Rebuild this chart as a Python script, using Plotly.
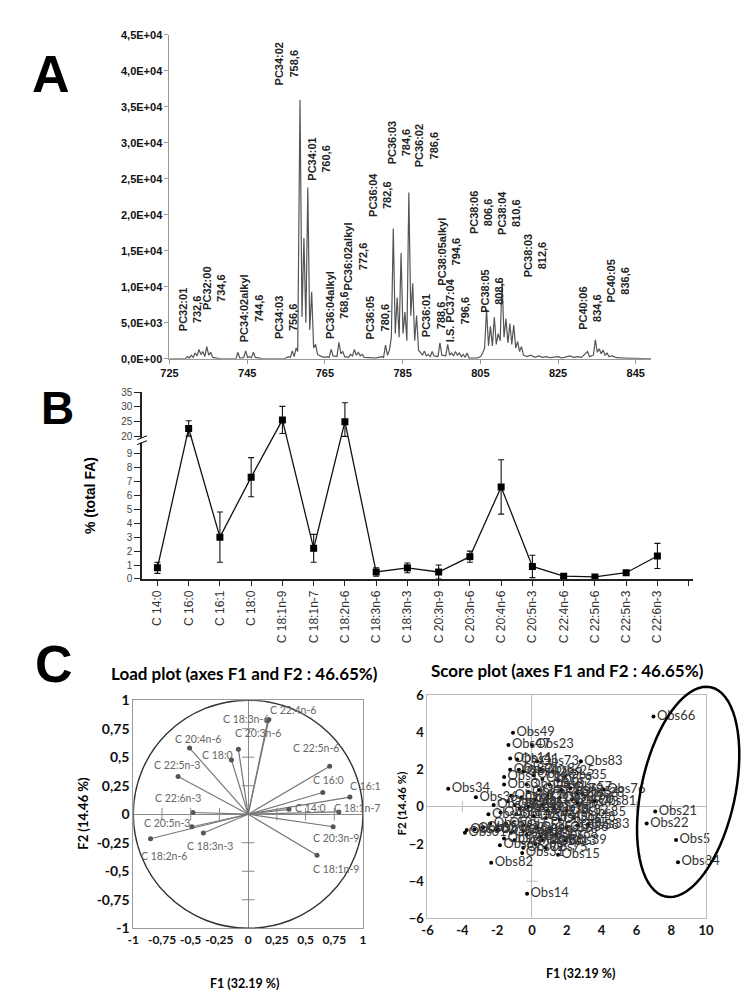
import math
import plotly.graph_objects as go

W, H = 751, 1000
def P(px): return px / W
def Q(py): return 1 - py / H

# ---------------- Panel A : ESI-MS spectrum ----------------
spec_mz = [725, 729.1, 729.6, 730.1, 730.6, 731.1, 731.6, 732.1, 732.6, 733.1, 733.6, 734.1, 734.6, 735.1, 735.6, 736.1, 737.1, 738.1,
           742.1, 742.6, 743.1, 744.1, 744.6, 745.1, 745.6, 746.1, 746.6, 747.1, 748.1, 749.0,
           754.6, 755.6, 756.1, 756.6, 757.1, 757.6, 758.0, 758.6, 759.1, 759.6, 760.1, 760.6, 761.1, 761.6, 762.1, 762.6, 763.1, 764.1, 765.1,
           765.6, 766.1, 766.6, 767.1, 768.1, 768.6, 769.1, 769.6, 770.1, 771.1, 771.6, 772.1, 772.6, 773.1, 773.6, 774.1, 774.6, 775.1, 776.0, 778.0,
           779.6, 780.1, 780.6, 781.1, 781.6, 782.1, 782.6, 783.1, 783.6, 784.1, 784.6, 785.1, 785.6, 786.1, 786.6, 787.1, 787.6, 788.1, 788.6,
           789.1, 789.6, 790.1, 790.6, 791.1, 791.6, 792.1, 792.6, 793.1, 794.1, 794.6, 795.1, 796.1, 796.6, 797.1, 797.6, 798.1, 798.6, 799.1,
           799.6, 800.1, 800.6, 801.1, 801.6, 802.1, 804.1, 805.1, 805.6, 806.1, 806.6, 807.1, 807.6, 808.1, 808.6, 809.1, 809.6, 810.1, 810.6,
           811.1, 811.6, 812.1, 812.6, 813.1, 813.6, 814.1, 814.6, 815.1, 815.6, 816.1, 817, 818, 819, 820, 821, 822, 823, 825, 826, 828, 829,
           830, 831, 832.6, 833.1, 834.1, 834.6, 835.1, 835.6, 836.1, 836.6, 837.1, 837.6, 838.1, 839, 840, 842, 845, 849]
spec_int = [0, 0, 300, 100, 500, 200, 800, 400, 1300, 600, 1000, 300, 1700, 500, 900, 200, 100, 0,
            0, 900, 100, 150, 1100, 200, 300, 150, 900, 200, 100, 0,
            0, 300, 200, 1100, 300, 1500, 1000, 36000, 5800, 16800, 5000, 23800, 4000, 9300, 1500, 2000, 600, 300, 200,
            300, 200, 1300, 400, 300, 2300, 700, 1000, 300, 200, 600, 400, 1300, 500, 900, 400, 600, 200, 150, 100,
            300, 200, 1900, 500, 1200, 3000, 18100, 3500, 8500, 3000, 14700, 3500, 6500, 2500, 23100, 6000, 10500, 2500, 6000,
            1200, 900, 500, 1100, 400, 600, 300, 1000, 400, 300, 2200, 500, 400, 2000, 500, 800, 400, 1000, 500,
            800, 300, 600, 200, 800, 100, 100, 300, 800, 1500, 6900, 1800, 4500, 1800, 5800, 2000, 3500, 2500, 10800,
            3000, 5600, 2200, 4900, 2000, 4700, 1500, 2400, 1000, 1700, 500, 300, 500, 200, 400, 200, 300, 150, 300, 100, 400, 200,
            300, 200, 1000, 300, 500, 2650, 900, 1400, 700, 1200, 500, 800, 300, 400, 150, 100, 50, 0]

pc_names = ["PC32:01", "PC32:00", "PC34:02alkyl", "PC34:03", "PC34:02", "PC34:01", "PC36:04alkyl", "PC36:02alkyl",
            "PC36:05", "PC36:04", "PC36:03", "PC36:02", "PC36:01", "PC38:05alkyl", "I.S. PC37:04", "PC38:06",
            "PC38:05", "PC38:04", "PC38:03", "PC40:06", "PC40:05"]
pc_mz_text = ["732,6", "734,6", "744,6", "756,6", "758,6", "760,6", "768,6", "772,6",
              "780,6", "782,6", "784,6", "786,6", "788,6", "794,6", "796,6", "806,6",
              "808,6", "810,6", "812,6", "834,6", "836,6"]
# label anchor positions (bottom-centre of rotated text) in data units
pc_lab_x = [730.3, 736.3, 746.2, 755.0, 755.1, 763.4, 768.0, 772.7, 778.5, 779.3, 784.1, 791.1, 792.9, 796.7, 799.2,
            805.2, 808.1, 812.5, 819.1, 833.2, 840.5]
pc_lab_y = [3500, 6500, 2000, 2400, 37700, 24500, 2400, 9200, 2400, 19500, 26700, 26300, 2700, 9900, 2000,
            17000, 6100, 17000, 11000, 3800, 7500]

a_xticks = [725, 745, 765, 785, 805, 825, 845]
a_yticks = [0, 5000, 10000, 15000, 20000, 25000, 30000, 35000, 40000, 45000]
a_yticktext = ["0,0E+00", "5,0E+03", "1,0E+04", "1,5E+04", "2,0E+04", "2,5E+04", "3,0E+04", "3,5E+04", "4,0E+04", "4,5E+04"]

# ---------------- Panel B : fatty acids ----------------
fa_names = ["C 14:0", "C 16:0", "C 16:1", "C 18:0", "C 18:1n-9", "C 18:1n-7", "C 18:2n-6", "C 18:3n-6", "C 18:3n-3",
            "C 20:3n-9", "C 20:3n-6", "C 20:4n-6", "C 20:5n-3", "C 22:4n-6", "C 22:5n-6", "C 22:5n-3", "C 22:6n-3"]
fa_mean = [0.8, 22.7, 3.0, 7.3, 25.6, 2.2, 25.0, 0.5, 0.8, 0.5, 1.6, 6.6, 0.9, 0.2, 0.15, 0.45, 1.65]
fa_err = [0.4, 2.6, 1.8, 1.4, 4.6, 1.0, 6.4, 0.3, 0.35, 0.5, 0.4, 1.95, 0.8, 0.1, 0.1, 0.1, 0.9]
b_ytick_vals = [0, 1, 2, 3, 4, 5, 6, 7, 8, 9, 20, 25, 30, 35]

# ---------------- Panel C : PCA ----------------
load_names = ["C 22:4n-6", "C 18:3n-6", "C 20:3n-6", "C 18:0", "C 20:4n-6", "C 22:5n-6", "C 16:0", "C 16:1",
              "C 18:1n-7", "C 14:0", "C 20:3n-9", "C 18:1n-9", "C 22:5n-3", "C 22:6n-3", "C 20:5n-3", "C 18:3n-3", "C 18:2n-6"]
load_f1 = [0.18, 0.17, -0.085, -0.145, -0.51, 0.71, 0.65, 0.886, 0.79, 0.355, 0.74, 0.60, -0.61, -0.48, -0.49, -0.39, -0.85]
load_f2 = [0.83, 0.82, 0.57, 0.475, 0.58, 0.42, 0.19, 0.15, 0.02, 0.043, -0.11, -0.36, 0.33, 0.015, -0.11, -0.165, -0.215]
# label offsets in pixels (style)
load_dx = [24, -22, 20, -14, 8, -14, 6, 16, 18, 22, 3, 19, -1, -15, -25, 7, 13]
load_dy = [10, 2, 16, 5, 9, 18, 13, 11, 4, 1, -11, -14, 12, 15, 4, -13, -17]

obs_names = ["Obs66", "Obs49", "Obs47", "Obs23", "Obs83", "Obs34", "Obs36", "Obs76", "Obs28", "Obs21", "Obs22", "Obs5",
             "Obs84", "Obs82", "Obs14", "Obs15", "Obs31", "Obs33", "Obs41", "Obs73", "Obs11", "Obs2", "Obs25", "Obs35",
             "Obs57", "Obs54", "Obs43", "Obs1", "Obs3", "Obs4", "Obs6", "Obs7", "Obs8", "Obs9", "Obs10", "Obs12",
             "Obs13", "Obs16", "Obs17", "Obs18", "Obs19", "Obs20", "Obs24", "Obs26", "Obs27", "Obs29", "Obs30", "Obs32",
             "Obs37", "Obs38", "Obs39", "Obs40", "Obs42", "Obs44", "Obs45", "Obs46", "Obs48", "Obs50", "Obs51", "Obs52",
             "Obs53", "Obs55", "Obs56", "Obs58", "Obs59", "Obs60", "Obs61", "Obs62", "Obs63", "Obs64", "Obs65", "Obs67",
             "Obs68", "Obs69", "Obs70", "Obs71", "Obs72", "Obs74", "Obs75", "Obs77", "Obs78", "Obs79", "Obs80", "Obs81",
             "Obs85", "Obs86", "Obs87", "Obs88", "Obs89", "Obs90"]
obs_f1 = [6.98, -1.09, -1.35, 0.0, 2.81, -4.81, -3.22, 4.12, 2.9, 7.08, 6.59, 8.28,
          8.39, -2.34, -0.28, 1.5, -0.56, 3.2, -0.85, 0.3, -1.25, -0.75, 1.2, 1.9,
          2.2, 2.6, 2.6, -1.6, -1.6, -0.5, 0.1, 0.6, 1.0, 1.5, -0.3, 0.4,
          1.3, -1.2, -0.6, 0.2, 0.9, 1.6, -1.0, -1.4, -0.2, 0.6, 1.3, 2.0,
          -2.2, -1.8, 1.9, -2.5, -0.9, 0.1, 0.8, 1.6, 2.4, -2.4, -1.5, -0.5,
          0.3, 1.1, 2.0, 2.6, -2.8, -3.75, -3.85, -3.3, -2.0, -1.2, -0.3, 0.5,
          1.4, -1.84, -1.6, -1.0, -0.5, 0.2, 0.8, -0.2, 0.9, 1.7, -0.7, 3.6,
          3.0, 0.5, -1.25, 0.6, -0.5, 2.3]
obs_f2 = [4.86, 3.98, 3.33, 3.33, 2.45, 0.97, 0.51, 0.93, 0.69, -0.25, -0.90, -1.78,
          -2.98, -3.01, -4.68, -2.57, -2.48, -0.95, 2.55, 2.45, 2.6, 2.0, 1.9, 1.65,
          1.0, 0.75, 0.2, 1.6, 1.2, 1.9, 1.7, 1.5, 1.2, 1.4, 1.2, 0.9,
          -1.9, 0.6, 0.5, 0.4, 0.6, 0.5, 0.1, 0.3, 0.0, 0.1, -0.1, -0.2,
          0.1, -0.3, -1.8, -0.4, -0.4, -0.5, -0.6, -0.7, -0.6, -0.9, -0.9, -1.0,
          -1.1, -1.2, -1.1, -1.0, -1.1, -1.25, -1.4, -1.2, -1.25, -1.4, -1.5, -1.6,
          -1.5, -2.06, -1.7, -1.8, -2.2, -2.0, -2.2, 0.8, -0.2, 0.9, -0.1, 0.3,
          -0.3, 2.0, 2.0, -1.8, -1.3, 0.4]

# ============================================================
ARIAL = "Liberation Sans"
LATO = "Lato"
fig = go.Figure()

# ---- A
fig.add_trace(go.Scatter(x=spec_mz, y=spec_int, mode="lines", line=dict(color="#555", width=1.2),
                         xaxis="x", yaxis="y", showlegend=False, hoverinfo="skip"))
for n, m, lx, ly in zip(pc_names, pc_mz_text, pc_lab_x, pc_lab_y):
    fig.add_annotation(x=lx, y=ly, xref="x", yref="y", text=f"{n}<br>{m}", textangle=-90, showarrow=False,
                       xanchor="center", yanchor="bottom", font=dict(family=ARIAL, size=11, color="#222", weight="bold"))

# ---- B
def T(v):
    if v <= 9.5:
        return v
    if v >= 20:
        return 10.22 + (v - 20) * 0.2113
    return 9.5 + (v - 9.5) * (0.72 / 10.5)

b_x = list(range(len(fa_names)))
b_y = [T(v) for v in fa_mean]
e_plus = [T(m + e) - T(m) for m, e in zip(fa_mean, fa_err)]
e_minus = []
for m, e in zip(fa_mean, fa_err):
    lo = m - e
    if m >= 20 and lo < 20:
        lo = 20
    e_minus.append(T(m) - T(max(lo, 0)))
fig.add_trace(go.Scatter(x=b_x, y=b_y, mode="lines+markers", xaxis="x2", yaxis="y2", showlegend=False,
                         line=dict(color="#111", width=1.3),
                         marker=dict(symbol="square", size=7, color="#000"),
                         error_y=dict(type="data", array=e_plus, arrayminus=e_minus, symmetric=False,
                                      color="#111", thickness=1.1, width=3)))

# ---- C load plot
vx, vy = [], []
for a, b in zip(load_f1, load_f2):
    vx += [0, a, None]
    vy += [0, b, None]
fig.add_trace(go.Scatter(x=vx, y=vy, mode="lines", line=dict(color="#777", width=1.2),
                         xaxis="x3", yaxis="y3", showlegend=False, hoverinfo="skip"))
fig.add_trace(go.Scatter(x=load_f1, y=load_f2, mode="markers", marker=dict(size=5, color="#555"),
                         xaxis="x3", yaxis="y3", showlegend=False))
tk = [-0.75, -0.5, -0.25, 0.25, 0.5, 0.75]
fig.add_trace(go.Scatter(x=tk, y=[0] * len(tk), mode="markers", xaxis="x3", yaxis="y3", showlegend=False,
                         marker=dict(symbol="line-ns-open", size=9, color="#888", line=dict(color="#888", width=1))))
fig.add_trace(go.Scatter(x=[0] * len(tk), y=tk, mode="markers", xaxis="x3", yaxis="y3", showlegend=False,
                         marker=dict(symbol="line-ew-open", size=9, color="#888", line=dict(color="#888", width=1))))
for n, a, b, dx, dy in zip(load_names, load_f1, load_f2, load_dx, load_dy):
    fig.add_annotation(x=a, y=b, xref="x3", yref="y3", text=n, showarrow=False, xshift=dx, yshift=dy,
                       font=dict(family=LATO, size=10.5, color="#666"))
fig.add_shape(type="circle", xref="x3", yref="y3", x0=-1, y0=-1, x1=1, y1=1,
              line=dict(color="#333", width=1.4))

# ---- C score plot
tk2 = [-4, -2, 2, 4, 6, 8]
fig.add_trace(go.Scatter(x=tk2, y=[0] * len(tk2), mode="markers", xaxis="x4", yaxis="y4", showlegend=False,
                         marker=dict(symbol="line-ns-open", size=8, color="#bbb", line=dict(color="#bbb", width=1))))
tk3 = [-4, -2, 2, 4]
fig.add_trace(go.Scatter(x=[0] * len(tk3), y=tk3, mode="markers", xaxis="x4", yaxis="y4", showlegend=False,
                         marker=dict(symbol="line-ew-open", size=8, color="#bbb", line=dict(color="#bbb", width=1))))
fig.add_trace(go.Scatter(x=obs_f1, y=obs_f2, mode="markers+text", text=obs_names, textposition="middle right",
                         textfont=dict(family=LATO, size=13, color="#333"), cliponaxis=False,
                         marker=dict(size=4, color="#000"), xaxis="x4", yaxis="y4", showlegend=False))

# ellipse (decoration) in paper coordinates
cx, cy, ea, eb, ang = 686.7, 788.3, 109, 48, math.radians(12.3)
pts = []
for i in range(73):
    t = 2 * math.pi * i / 72
    ux = eb * math.cos(t)
    uy = ea * math.sin(t)
    px = cx + ux * math.cos(ang) - uy * math.sin(ang)
    py = cy + ux * math.sin(ang) + uy * math.cos(ang)
    pts.append((P(px), Q(py)))
path = "M " + " L ".join(f"{x:.5f},{y:.5f}" for x, y in pts) + " Z"
fig.add_shape(type="path", xref="paper", yref="paper", path=path, line=dict(color="#000", width=2.5))

# ---- B axis break marks
fig.add_shape(type="rect", xref="paper", yref="paper", x0=P(121), x1=P(135), y0=Q(433), y1=Q(428),
              line=dict(width=0), fillcolor="white")
fig.add_shape(type="line", xref="paper", yref="paper", x0=P(123), y0=Q(430), x1=P(133), y1=Q(426),
              line=dict(color="#000", width=1))
fig.add_shape(type="line", xref="paper", yref="paper", x0=P(123), y0=Q(435), x1=P(133), y1=Q(431),
              line=dict(color="#000", width=1))

# ---- text annotations (letters, titles)
def txt(x, y, s, size, fam=ARIAL, bold=True, angle=0, color="#000", xa="center", ya="middle"):
    fig.add_annotation(x=P(x), y=Q(y), xref="paper", yref="paper", text=s, showarrow=False, textangle=angle,
                       xanchor=xa, yanchor=ya,
                       font=dict(family=fam, size=size, color=color, weight="bold" if bold else "normal"))

txt(35, 58, "A", 52)
txt(41, 398, "B", 46)
txt(38, 658, "C", 52)
txt(74, 487, "% (total FA)", 14, angle=-90)
txt(233, 668, "Load plot (axes F1 and F2 : 46.65%)", 17, fam=LATO)
txt(563, 665, "Score plot (axes F1 and F2 : 46.65%)", 17, fam=LATO)
txt(233, 983, "F1 (32.19 %)", 12.5, fam=LATO)
txt(577, 973, "F1 (32.19 %)", 12.5, fam=LATO)
txt(68, 810, "F2 (14.46 %)", 13, fam=LATO, angle=-90)
txt(393, 800, "F2 (14.46 %)", 11.5, fam=LATO, angle=-90)

lt = [-1, -0.75, -0.5, -0.25, 0, 0.25, 0.5, 0.75, 1]
lt_txt = [f"{v:g}".replace(".", ",") for v in lt]
st = [-6, -4, -2, 0, 2, 4, 6, 8, 10]
st_txt = [str(v) for v in st]
st_y = [-6, -4, -2, 0, 2, 4, 6]

fig.update_layout(
    width=W, height=H, autosize=False, margin=dict(l=0, r=0, t=0, b=0),
    paper_bgcolor="white", plot_bgcolor="white", showlegend=False,
    xaxis=dict(domain=[P(156), P(649)], range=[725, 849], anchor="y", tickvals=a_xticks,
               showline=True, linecolor="#999", linewidth=1, ticks="outside", ticklen=4, tickcolor="#999",
               showgrid=False, zeroline=False,
               tickfont=dict(family=ARIAL, size=11, color="#111", weight="bold")),
    yaxis=dict(domain=[Q(347.7), Q(18.3)], range=[0, 45000], anchor="x", tickvals=a_yticks, ticktext=a_yticktext,
               showline=True, linecolor="#999", linewidth=1, ticks="outside", ticklen=4, tickcolor="#999",
               showgrid=False, zeroline=False,
               tickfont=dict(family=ARIAL, size=11, color="#111", weight="bold")),
    xaxis2=dict(domain=[P(128), P(692)], range=[-0.49, 17.15], anchor="y2",
                tickvals=list(range(len(fa_names) + 1)), ticktext=fa_names + [""], tickangle=-90,
                showline=True, linecolor="#222", linewidth=1.5, ticks="outside", ticklen=5, tickcolor="#222",
                showgrid=False, zeroline=False,
                tickfont=dict(family=ARIAL, size=12, color="#333")),
    yaxis2=dict(domain=[Q(571.7), Q(381.7)], range=[0, T(35)], anchor="x2",
                tickvals=[T(v) for v in b_ytick_vals], ticktext=[str(v) for v in b_ytick_vals],
                showline=True, linecolor="#222", linewidth=1.5, ticks="outside", ticklen=6, tickcolor="#222",
                showgrid=False, zeroline=False,
                tickfont=dict(family=ARIAL, size=10, color="#444")),
    xaxis3=dict(domain=[P(119), P(354)], range=[-1, 1], anchor="y3", tickvals=lt, ticktext=lt_txt, tickangle=0,
                showline=True, mirror=True, linecolor="#999", linewidth=1, ticks="",
                showgrid=False, zeroline=True, zerolinecolor="#888", zerolinewidth=1,
                tickfont=dict(family=LATO, size=12, color="#111", weight="bold")),
    yaxis3=dict(domain=[Q(927), Q(695)], range=[-1, 1], anchor="x3", tickvals=lt, ticktext=lt_txt,
                showline=True, mirror=True, linecolor="#999", linewidth=1, ticks="",
                showgrid=False, zeroline=True, zerolinecolor="#888", zerolinewidth=1,
                tickfont=dict(family=LATO, size=14, color="#111", weight="bold")),
    xaxis4=dict(domain=[P(420), P(705)], range=[-6, 10], anchor="y4", tickvals=st, ticktext=st_txt, tickangle=0,
                showline=True, mirror=True, linecolor="#bbb", linewidth=1, ticks="",
                showgrid=False, zeroline=True, zerolinecolor="#bbb", zerolinewidth=1,
                tickfont=dict(family=LATO, size=13, color="#111", weight="bold")),
    yaxis4=dict(domain=[Q(917), Q(690)], range=[-6, 6], anchor="x4", tickvals=st_y,
                showline=True, mirror=True, linecolor="#bbb", linewidth=1, ticks="",
                showgrid=False, zeroline=True, zerolinecolor="#bbb", zerolinewidth=1,
                tickfont=dict(family=LATO, size=13, color="#111", weight="bold")),
)

fig.write_html("out.html")
